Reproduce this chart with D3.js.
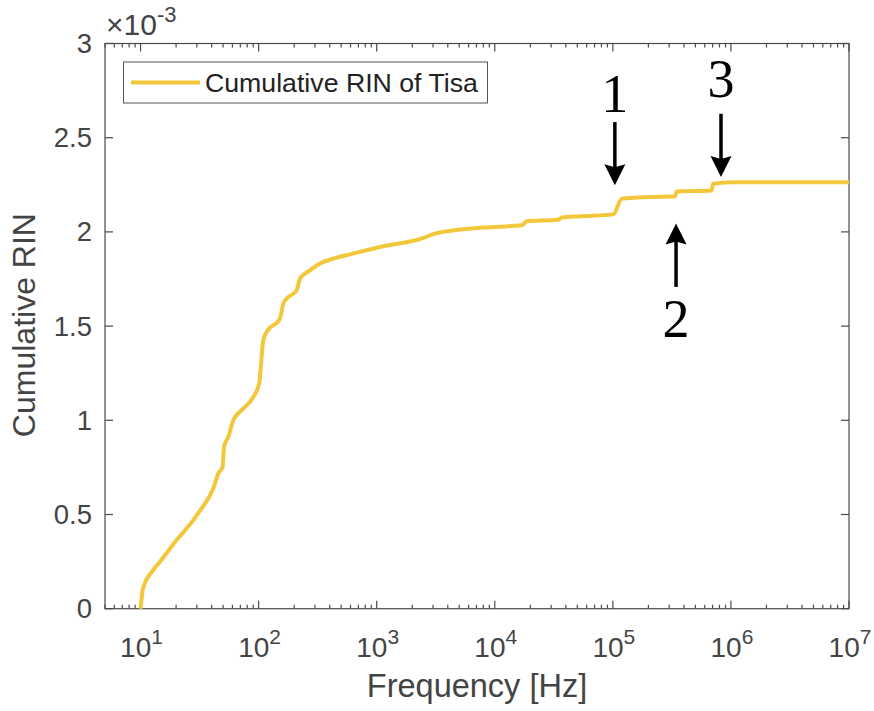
<!DOCTYPE html>
<html><head><meta charset="utf-8">
<script src="https://cdn.jsdelivr.net/npm/d3@7"></script>
<style>body{margin:0;background:#fff}svg{display:block}</style>
</head><body>
<svg id="c" width="874" height="711"></svg>
<script>
const freq = [10, 10.5, 12.8, 14.6, 20.2, 28, 31.9, 41.3, 45.6, 49.6, 50.9, 55.4, 61.1, 69.5, 90.2, 101, 109.6, 117, 151.7, 161.8, 173, 210, 224, 272, 331, 429, 594, 1067, 2500, 3013, 3664, 8000, 16900, 18620, 34500, 36900, 52700, 100900, 118800, 206500, 336500, 347500, 687000, 705000, 1047000, 1e7];
const rin = [0, 0.108, 0.205, 0.249, 0.364, 0.470, 0.520, 0.638, 0.718, 0.753, 0.859, 0.912, 1.001, 1.045, 1.124, 1.195, 1.425, 1.469, 1.540, 1.620, 1.646, 1.690, 1.752, 1.796, 1.832, 1.858, 1.881, 1.920, 1.968, 1.988, 2.000, 2.023, 2.035, 2.056, 2.065, 2.076, 2.083, 2.093, 2.176, 2.185, 2.189, 2.215, 2.220, 2.256, 2.264, 2.264].map(v => v * 1e-3);
const xTickExp = [1, 2, 3, 4, 5, 6, 7];
const yTicks = [0, 0.5e-3, 1e-3, 1.5e-3, 2e-3, 2.5e-3, 3e-3];
const yTickLabels = ["0", "0.5", "1", "1.5", "2", "2.5", "3"];
const seriesName = "Cumulative RIN of Tisa";
const annLabels = ["1", "2", "3"];
const annFreq = [1.04e5, 3.43e5, 8.24e5];
const annTip = [2.247e-3, 2.044e-3, 2.291e-3];
const annTail = [2.583e-3, 1.708e-3, 2.627e-3];
const annText = [2.634e-3, 1.443e-3, 2.714e-3];

const L = 105, R = 849, T = 43.5, B = 608.7;
const svg = d3.select("#c");
const x = d3.scaleLog().domain([5, 1e7]).range([L, R]);
const y = d3.scaleLinear().domain([0, 3e-3]).range([B, T]);
const axisCol = "#4a4a4a", textCol = "#444";
const sans = "'Liberation Sans', Arial, Helvetica, sans-serif";

const minor = [];
for (let e = 0; e < 7; e++) for (let m = 2; m <= 9; m++) { const v = m * Math.pow(10, e); if (v >= 5 && v <= 1e7) minor.push(v); }
const major = xTickExp.map(e => Math.pow(10, e));

const g = svg.append("g");
g.append("rect").attr("x", L).attr("y", T).attr("width", R - L).attr("height", B - T)
  .attr("fill", "none").attr("stroke", axisCol).attr("stroke-width", 1.2);

const xt = g.append("g").attr("stroke", axisCol).attr("stroke-width", 1.2);
minor.forEach(v => {
  xt.append("line").attr("x1", x(v)).attr("x2", x(v)).attr("y1", B).attr("y2", B - 4);
  xt.append("line").attr("x1", x(v)).attr("x2", x(v)).attr("y1", T).attr("y2", T + 4);
});
major.forEach(v => {
  xt.append("line").attr("x1", x(v)).attr("x2", x(v)).attr("y1", B).attr("y2", B - 8);
  xt.append("line").attr("x1", x(v)).attr("x2", x(v)).attr("y1", T).attr("y2", T + 8);
});
yTicks.forEach(v => {
  xt.append("line").attr("x1", L).attr("x2", L + 8).attr("y1", y(v)).attr("y2", y(v));
  xt.append("line").attr("x1", R).attr("x2", R - 8).attr("y1", y(v)).attr("y2", y(v));
});

xTickExp.forEach(e => {
  const t = g.append("text").attr("x", x(Math.pow(10, e)) + 1).attr("y", 656.5)
    .attr("text-anchor", "middle").attr("font-family", sans).attr("font-size", 28).attr("fill", textCol);
  t.append("tspan").text("10");
  t.append("tspan").attr("dy", -12.5).attr("font-size", 21).text(e);
});
yTicks.forEach((v, i) => {
  g.append("text").attr("x", 92).attr("y", y(v) + 9.5).attr("text-anchor", "end")
    .attr("font-family", sans).attr("font-size", 27.5).attr("fill", textCol).text(yTickLabels[i]);
});
const ex = g.append("text").attr("x", 106).attr("y", 35).attr("font-family", sans).attr("font-size", 30).attr("fill", textCol);
ex.append("tspan").text("\u00D710");
ex.append("tspan").attr("dy", -13).attr("font-size", 22).text("-3");

g.append("text").attr("x", (L + R) / 2).attr("y", 697).attr("text-anchor", "middle")
  .attr("font-family", sans).attr("font-size", 32.5).attr("fill", textCol).text("Frequency [Hz]");
g.append("text").attr("transform", `translate(35,${(T + B) / 2 - 1}) rotate(-90)`).attr("text-anchor", "middle")
  .attr("font-family", sans).attr("font-size", 32).attr("fill", textCol).text("Cumulative RIN");

const data = freq.map((f, i) => [f, rin[i]]);
const line = d3.line().x(d => x(d[0])).y(d => y(d[1])).curve(d3.curveMonotoneX);
g.append("path").datum(data).attr("d", line).attr("fill", "none")
  .attr("stroke", "#F3C73A").attr("stroke-width", 4).attr("stroke-linejoin", "round").attr("stroke-linecap", "butt");

const lg = g.append("g");
lg.append("rect").attr("x", 123.5).attr("y", 62).attr("width", 364).attr("height", 41)
  .attr("fill", "#fff").attr("stroke", "#555").attr("stroke-width", 1);
lg.append("line").attr("x1", 131).attr("x2", 200).attr("y1", 82.5).attr("y2", 82.5)
  .attr("stroke", "#F3C73A").attr("stroke-width", 4);
lg.append("text").attr("x", 205).attr("y", 91.5).attr("font-family", sans).attr("font-size", 26.7)
  .attr("fill", "#222").text(seriesName);

const ag = g.append("g");
annLabels.forEach((lab, i) => {
  const ax = x(annFreq[i]), tipY = y(annTip[i]), tailY = y(annTail[i]);
  const dir = tipY > tailY ? 1 : -1;
  const headLen = 18, headW = 10.5;
  const baseY = tipY - dir * headLen;
  ag.append("line").attr("x1", ax).attr("x2", ax).attr("y1", tailY).attr("y2", baseY + dir * 2)
    .attr("stroke", "#000").attr("stroke-width", 3.5);
  ag.append("path").attr("d", `M${ax},${tipY} L${ax - headW},${baseY - dir * 3} L${ax},${baseY} L${ax + headW},${baseY - dir * 3} Z`)
    .attr("fill", "#000");
  ag.append("text").attr("x", ax).attr("y", y(annText[i])).attr("text-anchor", "middle")
    .attr("font-family", "'Liberation Serif', 'DejaVu Serif', serif").attr("font-size", 54).attr("fill", "#000").text(lab);
});
</script>
</body></html>
